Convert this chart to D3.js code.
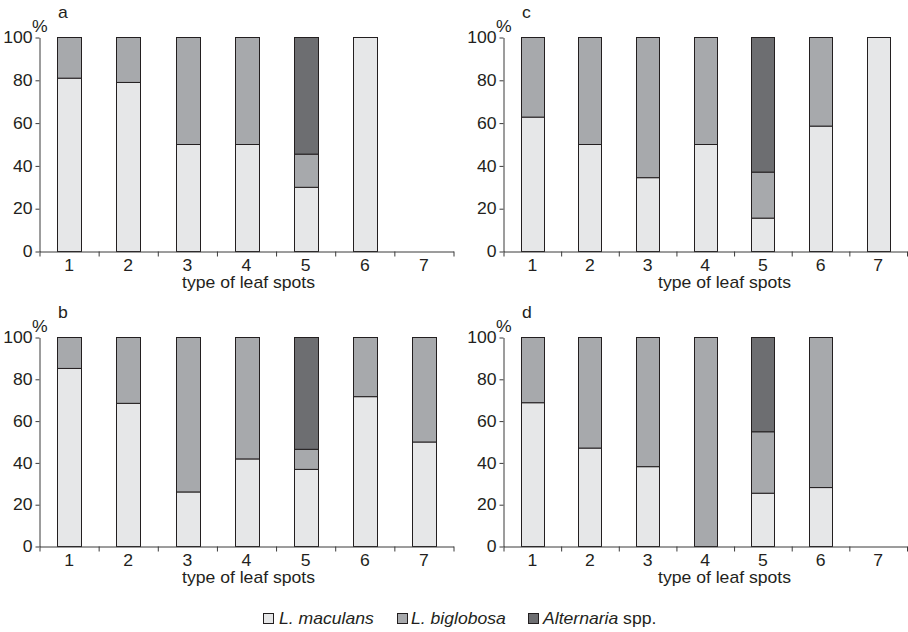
<!DOCTYPE html>
<html><head><meta charset="utf-8">
<script src="https://cdn.jsdelivr.net/npm/d3@7"></script>
<style>
body{margin:0;background:#fff}
svg{display:block}
text{font-family:"Liberation Sans",Arial,Helvetica,sans-serif;fill:#231f20}
</style>
</head><body>
<svg id="chart" width="908" height="632"></svg>
<script>
// ---------- data ----------
const categories = ["1","2","3","4","5","6","7"];
const yTicks = [0,20,40,60,80,100];
const seriesKeys = ["mac","big","alt"];
const seriesNames = ["L. maculans","L. biglobosa","Alternaria spp."];
const xTitle = "type of leaf spots";

// panel a
const macA = [81, 79, 50, 50, 30, 100, null];
const bigA = [19, 21, 50, 50, 15.5, 0, null];
const altA = [0, 0, 0, 0, 54.5, 0, null];
// panel b
const macB = [85.2, 68.5, 26.1, 41.9, 36.9, 71.7, 50];
const bigB = [14.8, 31.5, 73.9, 58.1, 9.6, 28.3, 50];
const altB = [0, 0, 0, 0, 53.5, 0, 0];
// panel c
const macC = [62.8, 50, 34.5, 50, 15.6, 58.6, 100];
const bigC = [37.2, 50, 65.5, 50, 21.5, 41.4, 0];
const altC = [0, 0, 0, 0, 62.9, 0, 0];
// panel d
const macD = [68.8, 47.1, 38.2, 0, 25.5, 28.2, null];
const bigD = [31.2, 52.9, 61.8, 100, 29.4, 71.8, null];
const altD = [0, 0, 0, 0, 45.1, 0, null];

// ---------- styling / layout ----------
const colors = {mac:"#e6e7e8", big:"#a7a9ac", alt:"#6d6e71"};
const ink = "#231f20";
const axisColor = "#3a3a3a";
const FS = 16;        // font size
const SX = 1.1;       // horizontal stretch of the original typeface

const panels = [
  {id:"a", mac:macA, big:bigA, alt:altA, x0:39.5, x1:453.5, yt:37.5, yb:251.5, titleDx:209},
  {id:"b", mac:macB, big:bigB, alt:altB, x0:39.5, x1:453.5, yt:337.5, yb:546.5, titleDx:209},
  {id:"c", mac:macC, big:bigC, alt:altC, x0:503.5, x1:907, yt:37.5, yb:251.5, titleDx:221},
  {id:"d", mac:macD, big:bigD, alt:altD, x0:503.5, x1:907, yt:337.5, yb:546.5, titleDx:221}
];

const svg = d3.select("#chart");

function stretchedText(parent, x, y, str, anchor, italic){
  const t = parent.append("text")
    .attr("transform", `translate(${x},${y}) scale(${SX},1)`)
    .attr("text-anchor", anchor || "start")
    .style("font-size", FS + "px");
  if (italic) t.style("font-style","italic");
  if (str != null) t.text(str);
  return t;
}

function drawPanel(p){
  const g = svg.append("g");
  const x = d3.scaleBand().domain(categories).range([p.x0, p.x1]).paddingInner(0.6).paddingOuter(0.3);
  const xb = d3.scaleLinear().domain([0, categories.length]).range([p.x0, p.x1]);
  const y = d3.scaleLinear().domain([0,100]).range([p.yb, p.yt]);

  const rows = categories.map((c,i)=>({cat:c, mac:p.mac[i], big:p.big[i], alt:p.alt[i]}))
    .filter(r => r.mac != null);
  const stacked = d3.stack().keys(seriesKeys)(rows);

  stacked.forEach(layer => {
    g.append("g").selectAll("rect")
      .data(layer.filter(d => d[1] - d[0] > 0))
      .join("rect")
      .attr("x", d => Math.round(x(d.data.cat)) + 0.5)
      .attr("width", Math.round(x.bandwidth()))
      .attr("y", d => y(d[1]))
      .attr("height", d => y(d[0]) - y(d[1]))
      .attr("fill", colors[layer.key])
      .attr("stroke", ink)
      .attr("stroke-width", 1);
  });

  // y axis
  const ya = g.append("g").attr("transform", `translate(${p.x0},0)`)
    .call(d3.axisLeft(y).tickValues(yTicks).tickSize(4).tickSizeOuter(0).tickPadding(3));
  ya.selectAll("path,line").attr("stroke", axisColor);
  ya.attr("font-family", null).attr("font-size", null);
  ya.selectAll("text").attr("x", -7/SX).attr("transform", `scale(${SX},1)`)
    .style("font-size", FS+"px").attr("fill", ink);

  // x axis: boundary ticks
  const xa = g.append("g").attr("transform", `translate(0,${p.yb})`)
    .call(d3.axisBottom(xb).tickValues(d3.range(categories.length+1)).tickSize(5).tickSizeOuter(0).tickFormat(""));
  xa.selectAll("path,line").attr("stroke", axisColor);
  // x axis: category labels
  const xl = g.append("g").attr("transform", `translate(0,${p.yb})`)
    .call(d3.axisBottom(x).tickSize(0).tickPadding(8.5));
  xl.select(".domain").remove();
  xl.attr("font-family", null).attr("font-size", null);
  xl.selectAll("text").attr("transform", `scale(${SX},1)`).style("font-size", FS+"px").attr("fill", ink);

  // titles
  stretchedText(g, p.x0 + p.titleDx, p.yb + 36.5, xTitle, "middle");
  stretchedText(g, p.x0 - 7.5, p.yt - 5.5, "%", "start");
  stretchedText(g, p.x0 + 18.5, p.yt - 19.5, p.id, "start");
}

panels.forEach(drawPanel);

// legend
const legendItems = [
  {key:"mac", bx:263.5, tx:279, parts:[["L. maculans",true]]},
  {key:"big", bx:397.5, tx:411, parts:[["L. biglobosa",true]]},
  {key:"alt", bx:528.5, tx:543, parts:[["Alternaria",true],[" spp.",false]]}
];
const lg = svg.append("g");
legendItems.forEach(it => {
  lg.append("rect").attr("x", it.bx).attr("y", 613.5).attr("width", 10).attr("height", 10)
    .attr("fill", colors[it.key]).attr("stroke", ink).attr("stroke-width", 1);
  const t = stretchedText(lg, it.tx, 624, null, "start");
  it.parts.forEach(([s, ital]) => {
    t.append("tspan").text(s).style("font-style", ital ? "italic" : "normal");
  });
});
</script>
</body></html>
